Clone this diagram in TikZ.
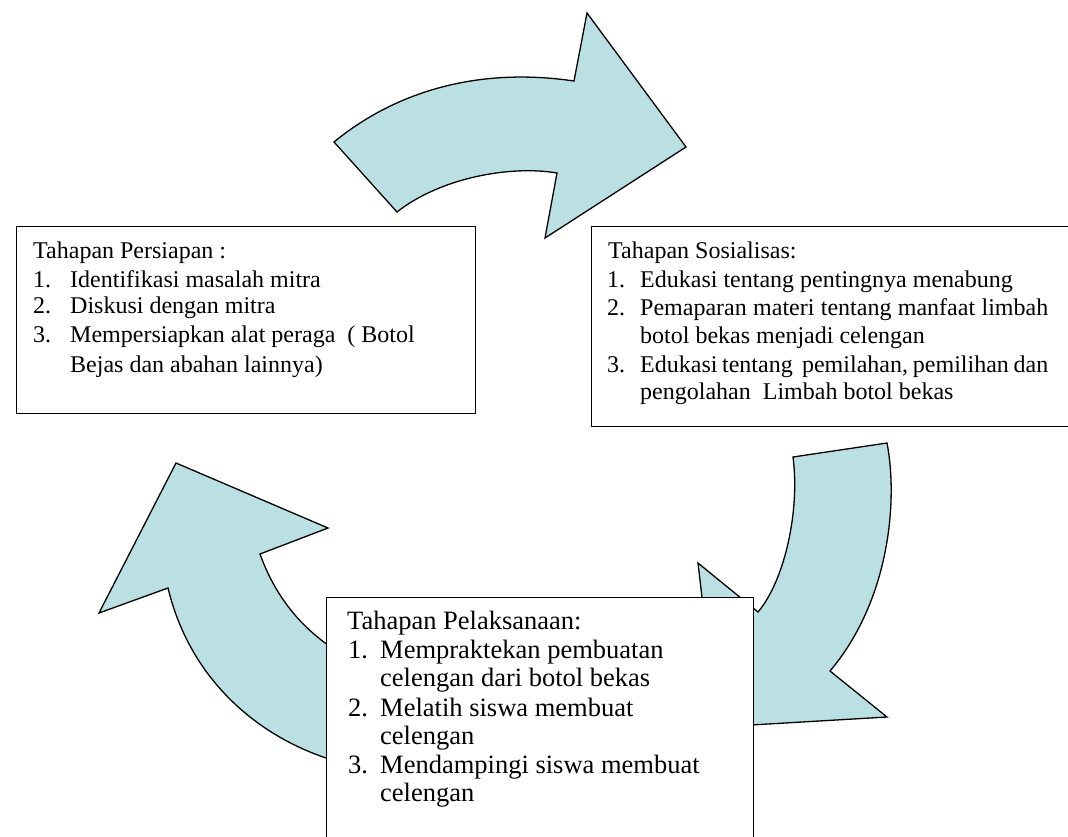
\documentclass[tikz,border=0pt]{standalone}
\usepackage{fontspec}
\setmainfont{Liberation Serif}
\definecolor{arrowblue}{RGB}{187,224,227}
\tikzset{
  arrowshape/.style={fill=arrowblue, draw=black, line width=1.3pt, line join=miter},
  stagebox/.style={draw=black, fill=white, line width=1.3pt, anchor=north west, inner sep=0pt},
  txt/.style={anchor=base west, inner sep=0pt, font=\fontsize{24}{28}\selectfont},
  txtb/.style={anchor=base west, inner sep=0pt, font=\fontsize{26.5}{30}\selectfont}
}
\begin{document}
\begin{tikzpicture}[x=1pt,y=-1pt]
\clip (0,0) rectangle (1068,836);
\fill[white] (0,0) rectangle (1068,836);
% top arrow
\draw[arrowshape] (334,142) .. controls (385,100) and (465,65) .. (574,81)
  -- (587,13) -- (686,147) -- (545,238) -- (557,173)
  .. controls (510,165) and (440,178) .. (397,212) -- cycle;
% right arrow
\draw[arrowshape] (793,457) -- (887,443) .. controls (898,500) and (890,600) .. (830,671)
  -- (887,717) -- (717,727) -- (698,563) -- (758,612)
  .. controls (785,580) and (800,510) .. (793,457) -- cycle;
% left arrow
\draw[arrowshape] (176,463) -- (328,528) -- (260,554)
  .. controls (280,610) and (320,650) .. (380,672) -- (380,770)
  .. controls (290,760) and (195,700) .. (168,588) -- (99,613) -- cycle;
% boxes
\node[stagebox, minimum width=459pt, minimum height=187pt] (persiapan) at (16,226) {};
\node[stagebox, minimum width=489pt, minimum height=200pt] (sosialisasi) at (591,226) {};
\node[stagebox, minimum width=427pt, minimum height=260pt] (pelaksanaan) at (326,597) {};
% left box text
\node[txt] (p0) at (33,258) {Tahapan Persiapan :};
\node[txt] (p1n) at (33,287) {1.};
\node[txt] (p1) at (70,287) {Identifikasi masalah mitra};
\node[txt] (p2n) at (33,313) {2.};
\node[txt] (p2) at (70,313) {Diskusi dengan mitra};
\node[txt] (p3n) at (33,342) {3.};
\node[txt] (p3) at (70,342) {Mempersiapkan alat peraga\ \ ( Botol};
\node[txt] (p3b) at (70,372) {Bejas dan abahan lainnya)};
% right box text
\node[txt] (s0) at (608,258) {Tahapan Sosialisas:};
\node[txt] (s1n) at (607,287) {1.};
\node[txt] (s1) at (640,287) {Edukasi tentang pentingnya menabung};
\node[txt] (s2n) at (607,315) {2.};
\node[txt] (s2) at (640,315) {\makebox[408pt][s]{Pemaparan materi tentang manfaat limbah}};
\node[txt] (s2b) at (640,343) {botol bekas menjadi celengan};
\node[txt] (s3n) at (607,372) {3.};
\node[txt] (s3) at (640,372) {\makebox[408pt][s]{Edukasi tentang\ \ pemilahan, pemilihan dan}};
\node[txt] (s3b) at (640,399) {pengolahan\ \ Limbah botol bekas};
% bottom box text
\node[txtb] (k0) at (347,629) {Tahapan Pelaksanaan:};
\node[txtb] (k1n) at (348,658) {1.};
\node[txtb] (k1) at (380,658) {Mempraktekan pembuatan};
\node[txtb] (k1b) at (380,686) {celengan dari botol bekas};
\node[txtb] (k2n) at (348,716) {2.};
\node[txtb] (k2) at (380,716) {Melatih siswa membuat};
\node[txtb] (k2b) at (380,744) {celengan};
\node[txtb] (k3n) at (348,773) {3.};
\node[txtb] (k3) at (380,773) {Mendampingi siswa membuat};
\node[txtb] (k3b) at (380,801) {celengan};
\end{tikzpicture}
\end{document}
